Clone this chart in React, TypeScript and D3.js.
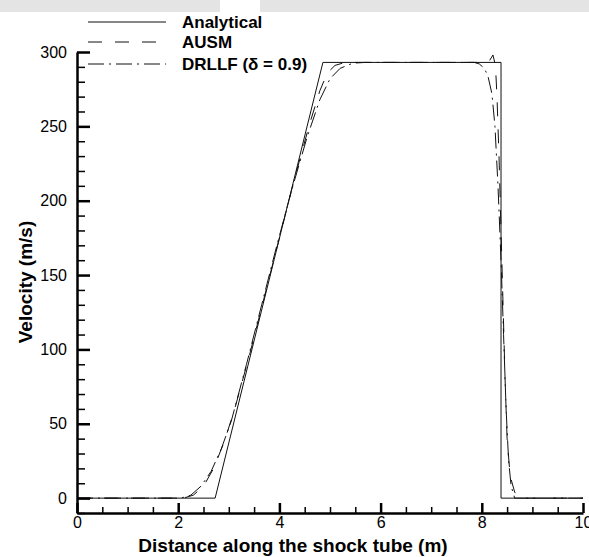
import React, { useEffect, useRef } from "react";
import * as d3 from "d3";

// analytical solution (piecewise linear)
const analyticalX = [0, 2.73, 4.86, 8.38, 8.38, 10];
const analyticalV = [0, 0, 293, 293, 0, 0];

// AUSM result
const ausmX = [0, 2.1, 2.3, 2.5, 2.7, 2.9, 3.1, 3.4, 3.7, 4.0, 4.3, 4.6, 4.8, 4.95, 5.1, 5.3, 8.0, 8.15, 8.22, 8.27, 8.3, 8.34, 8.38, 8.42, 8.46, 8.5, 8.56, 8.65, 8.75, 10];
const ausmV = [0, 0, 2, 8, 20, 37, 58, 95, 135, 175, 215, 252, 274, 286, 291, 293, 293, 294, 298, 291, 270, 230, 180, 130, 80, 40, 15, 4, 0, 0];

// DRLLF result
const drllfX = [0, 2.05, 2.25, 2.45, 2.65, 2.85, 3.05, 3.35, 3.65, 3.95, 4.25, 4.55, 4.8, 5.0, 5.2, 5.45, 5.7, 7.85, 7.95, 8.05, 8.12, 8.2, 8.26, 8.32, 8.38, 8.43, 8.48, 8.53, 8.58, 8.65, 10];
const drllfV = [0, 0, 2, 8, 18, 33, 52, 90, 130, 170, 208, 243, 268, 282, 289, 292.5, 293, 293, 292, 289, 284, 272, 250, 210, 160, 110, 60, 25, 8, 0, 0];

const xTicks = [0, 2, 4, 6, 8, 10];
const yTicks = [0, 50, 100, 150, 200, 250, 300];

const legendNames = ["Analytical", "AUSM", "DRLLF (\u03b4 = 0.9)"];
const dashes = [null, "14,13", "16,5,2,5"];

const W = 589, H = 557;
const margin = { left: 77, right: 6, top: 52, bottom: 44 };

export default function App() {
  const ref = useRef<SVGSVGElement>(null);

  useEffect(() => {
    const svg = d3.select(ref.current);
    svg.selectAll("*").remove();

    const x = d3.scaleLinear().domain([0, 10]).range([margin.left, W - margin.right]);
    const y = d3.scaleLinear().domain([-10, 300]).range([H - margin.bottom, margin.top]);

    // screenshot bands at the top
    svg.append("rect").attr("x", 0).attr("y", 0).attr("width", 220).attr("height", 12).attr("fill", "#e4e4e4");
    svg.append("rect").attr("x", 260).attr("y", 0).attr("width", 329).attr("height", 12).attr("fill", "#e4e4e4");

    const font = "'Liberation Sans', Arial, sans-serif";

    const series = [
      { xs: analyticalX, vs: analyticalV },
      { xs: ausmX, vs: ausmV },
      { xs: drllfX, vs: drllfV },
    ];

    const line = d3.line<[number, number]>()
      .x(d => x(d[0]))
      .y(d => y(d[1]));

    series.forEach((s, i) => {
      const pts = s.xs.map((v, j) => [v, s.vs[j]] as [number, number]);
      svg.append("path")
        .attr("d", line(pts))
        .attr("fill", "none")
        .attr("stroke", "#111")
        .attr("stroke-width", 1)
        .attr("stroke-dasharray", dashes[i]);
    });

    // y axis
    const yMinor = d3.range(-10, 301, 10).filter(v => v % 50 !== 0);
    svg.append("g")
      .attr("transform", `translate(${margin.left},0)`)
      .call(d3.axisLeft(y).tickValues(yMinor).tickSize(-8).tickFormat(() => "").tickSizeOuter(0))
      .call(g => g.select(".domain").remove())
      .call(g => g.selectAll("line").attr("stroke", "#000").attr("stroke-width", 1.5));
    svg.append("g")
      .attr("transform", `translate(${margin.left},0)`)
      .call(d3.axisLeft(y).tickValues(yTicks).tickSize(-13).tickPadding(10).tickSizeOuter(0))
      .call(g => g.select(".domain").attr("stroke", "#000").attr("stroke-width", 2.5))
      .call(g => g.selectAll("line").attr("stroke", "#000").attr("stroke-width", 2.5))
      .call(g => g.selectAll("text").attr("font-family", font).attr("font-size", 16).attr("fill", "#000"));

    // x axis
    const xMinor = d3.range(0.5, 10, 0.5).filter(v => v % 2 !== 0);
    svg.append("g")
      .attr("transform", `translate(0,${H - margin.bottom})`)
      .call(d3.axisBottom(x).tickValues(xMinor).tickSize(-6).tickFormat(() => "").tickSizeOuter(0))
      .call(g => g.select(".domain").remove())
      .call(g => g.selectAll("line").attr("stroke", "#000").attr("stroke-width", 1.5));
    svg.append("g")
      .attr("transform", `translate(0,${H - margin.bottom})`)
      .call(d3.axisBottom(x).tickValues(xTicks).tickSize(-10).tickPadding(4).tickSizeOuter(0))
      .call(g => g.select(".domain").attr("stroke", "#000").attr("stroke-width", 2.5))
      .call(g => g.selectAll("line").attr("stroke", "#000").attr("stroke-width", 2.5))
      .call(g => g.selectAll("text").attr("font-family", font).attr("font-size", 16).attr("fill", "#000"));

    // axis titles
    svg.append("text")
      .attr("x", 293).attr("y", 552)
      .attr("text-anchor", "middle")
      .attr("font-family", font).attr("font-size", 19).attr("font-weight", "bold")
      .text("Distance along the shock tube (m)");
    svg.append("text")
      .attr("transform", `translate(32,282) rotate(-90)`)
      .attr("text-anchor", "middle")
      .attr("font-family", font).attr("font-size", 19).attr("font-weight", "bold")
      .text("Velocity (m/s)");

    // legend
    const rows = [22, 42, 64];
    legendNames.forEach((name, i) => {
      svg.append("line")
        .attr("x1", 88).attr("x2", 166).attr("y1", rows[i]).attr("y2", rows[i])
        .attr("stroke", "#111").attr("stroke-width", 1)
        .attr("stroke-dasharray", dashes[i]);
      svg.append("text")
        .attr("x", 182).attr("y", rows[i] + 6)
        .attr("font-family", font).attr("font-size", 17).attr("font-weight", "bold")
        .text(name);
    });
  }, []);

  return (
    <svg ref={ref} width={W} height={H}
      style={{ position: "absolute", left: 0, top: 0, background: "#fff" }} />
  );
}
